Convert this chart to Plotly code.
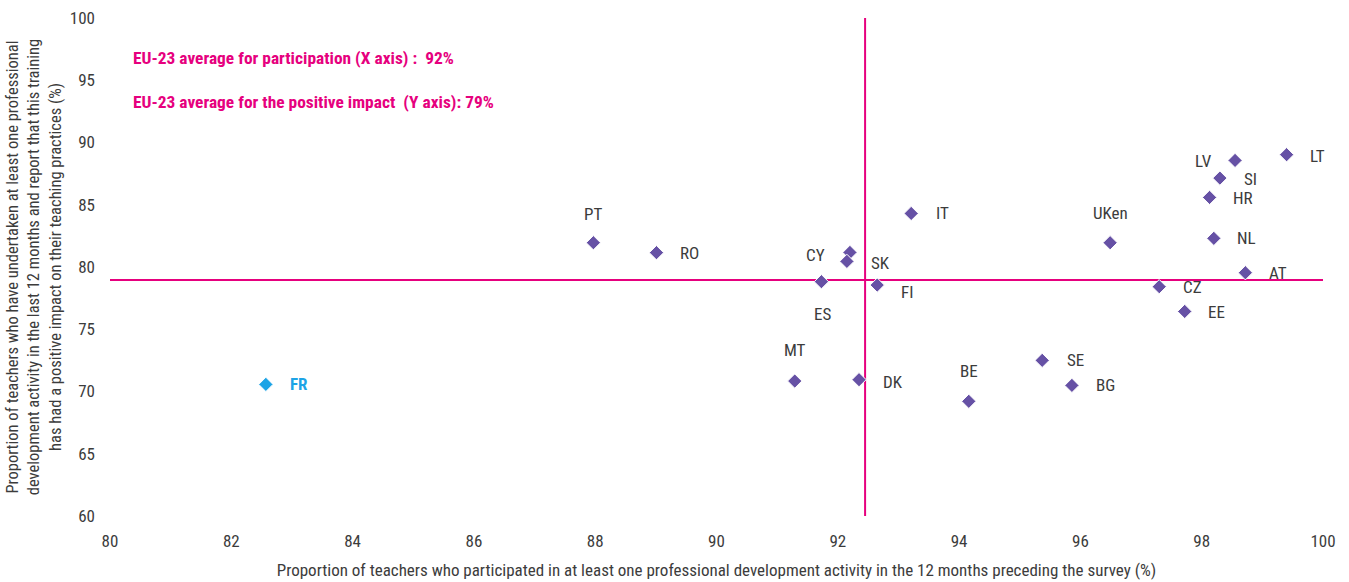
import plotly.graph_objects as go

# Country codes and their values (% participation, % reporting positive impact)
countries = ["PT", "RO", "CY", "SK", "ES", "FI", "IT", "MT", "DK", "BE", "SE", "BG",
             "UKen", "CZ", "EE", "HR", "NL", "SI", "LV", "AT", "LT"]
participation = [87.97, 89.01, 92.20, 92.15, 91.73, 92.65, 93.21, 91.29, 92.35, 94.16, 95.37, 95.86,
                 96.49, 97.30, 97.72, 98.13, 98.20, 98.30, 98.55, 98.72, 99.40]
positive_impact = [81.95, 81.15, 81.17, 80.45, 78.82, 78.55, 84.30, 70.84, 70.95, 69.21, 72.50, 70.49,
                   81.95, 78.42, 76.43, 85.59, 82.30, 87.14, 88.56, 79.54, 89.02]

# Highlighted country
fr_code = "FR"
fr_participation = 82.57
fr_impact = 70.57

# EU-23 averages
avg_participation = 92.45
avg_impact = 78.95

x_range = [80, 100]
y_range = [60, 100]
x_ticks = [80, 82, 84, 86, 88, 90, 92, 94, 96, 98, 100]
y_ticks = [60, 65, 70, 75, 80, 85, 90, 95, 100]

avg_lines = [
    "EU-23 average for participation (X axis) :  92%",
    "EU-23 average for the positive impact  (Y axis): 79%",
]

x_title = ("Proportion of teachers who participated in at least one professional development "
           "activity in the 12 months preceding the survey (%)")
y_title = ("Proportion of teachers who have undertaken at least one professional<br>"
           "development activity in the last 12 months and report that this training<br>"
           "has had a positive impact on their teaching practices (%)")

# Label offsets in pixels (dx right, dy down) for each country label
label_offsets = {
    "PT": (0, -29), "RO": (33, 0), "CY": (-34, 3), "SK": (34, 2), "ES": (1, 32),
    "FI": (30, 7), "IT": (31, 0), "MT": (0, -31), "DK": (34, 2), "BE": (0, -30),
    "SE": (33, 0), "BG": (34, 0), "UKen": (0, -30), "CZ": (33, 0), "EE": (32, 1),
    "HR": (33, 1), "NL": (33, 0), "SI": (31, 1), "LV": (-32, 1), "AT": (33, 0),
    "LT": (31, 1),
}

FONT = "Liberation Sans Narrow, Roboto Condensed, Arial Narrow, Liberation Sans, sans-serif"
PINK = "#E6007E"
PURPLE = "#6651A5"
BLUE = "#1DA4E6"
TEXT = "#3C3C3C"

fig = go.Figure()

fig.add_trace(go.Scatter(
    x=participation, y=positive_impact, mode="markers",
    marker=dict(symbol="diamond", size=11, color=PURPLE, line=dict(color="white", width=1)),
    showlegend=False, hoverinfo="text", text=countries,
))
fig.add_trace(go.Scatter(
    x=[fr_participation], y=[fr_impact], mode="markers",
    marker=dict(symbol="diamond", size=11, color=BLUE, line=dict(color="white", width=1)),
    showlegend=False, hoverinfo="text", text=[fr_code],
))

# Average reference lines across the full plot area
fig.add_shape(type="line", xref="x", yref="y", x0=avg_participation, x1=avg_participation,
              y0=y_range[0], y1=y_range[1], line=dict(color=PINK, width=2), layer="below")
fig.add_shape(type="line", xref="x", yref="y", x0=x_range[0], x1=x_range[1],
              y0=avg_impact, y1=avg_impact, line=dict(color=PINK, width=2), layer="below")

annotations = []
for c, xv, yv in zip(countries, participation, positive_impact):
    dx, dy = label_offsets[c]
    annotations.append(dict(x=xv, y=yv, xref="x", yref="y", text=c, showarrow=False,
                            xshift=dx, yshift=-dy, xanchor="center", yanchor="middle",
                            font=dict(family=FONT, size=17, color=TEXT)))
annotations.append(dict(x=fr_participation, y=fr_impact, xref="x", yref="y",
                        text="<b>" + fr_code + "</b>", showarrow=False, xshift=33, yshift=0,
                        xanchor="center", yanchor="middle",
                        font=dict(family=FONT, size=17, color=BLUE)))

for i, line in enumerate(avg_lines):
    annotations.append(dict(x=0.0175, y=0.919 - i * 0.0885, xref="paper", yref="paper",
                            text="<b>" + line + "</b>", showarrow=False,
                            xanchor="left", yanchor="middle",
                            font=dict(family=FONT, size=17.4, color=PINK)))

fig.update_layout(
    width=1349, height=582,
    margin=dict(l=110, r=26, t=18, b=66, autoexpand=False),
    paper_bgcolor="white", plot_bgcolor="white",
    font=dict(family=FONT, size=17, color=TEXT),
    annotations=annotations,
    xaxis=dict(range=x_range, tickvals=x_ticks, showgrid=False, zeroline=False,
               showline=False, ticks="", ticklabelstandoff=13,
               tickfont=dict(family=FONT, size=17, color=TEXT),
               title=dict(text=x_title, standoff=14,
                          font=dict(family=FONT, size=17, color=TEXT))),
    yaxis=dict(range=y_range, tickvals=y_ticks, showgrid=False, zeroline=False,
               showline=False, ticks="", ticklabelstandoff=14,
               tickfont=dict(family=FONT, size=17, color=TEXT),
               title=dict(text=y_title, standoff=4,
                          font=dict(family=FONT, size=16.5, color=TEXT))),
)

fig.write_html("out.html", config={"displayModeBar": False})
